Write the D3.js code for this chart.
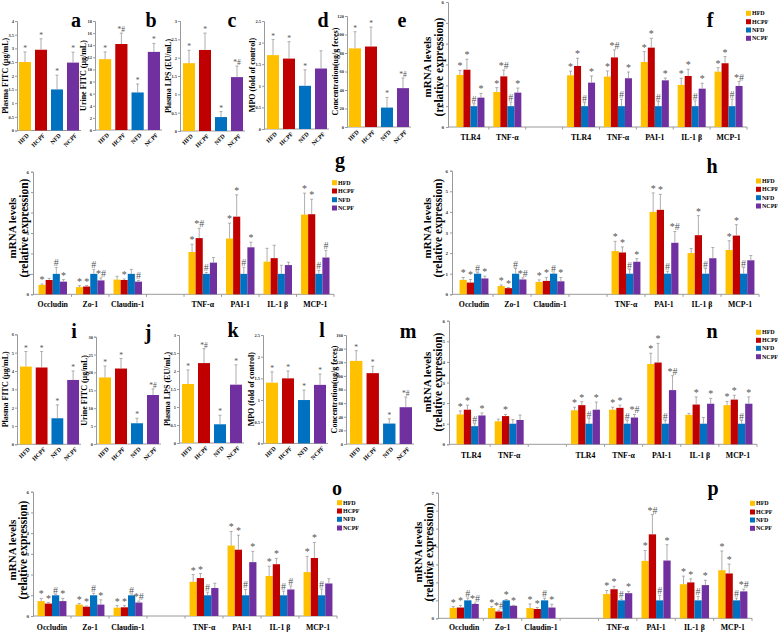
<!DOCTYPE html>
<html><head><meta charset="utf-8">
<script src="https://cdn.jsdelivr.net/npm/d3@7"></script>
<style>body{margin:0;background:#fff}svg{display:block}text{font-family:"Liberation Serif","Times New Roman",serif}</style>
</head><body><svg id="c" width="778" height="632"></svg>
<script>
// ---------- DATA ----------
const groups = ["HFD","HCPF","NFD","NCPF"];
const colors = ["#FFC000","#C00000","#0070C0","#7030A0"];

// small panels (values, upper SD, significance marks)
const aVal=[2.5,2.95,1.5,2.48], aErr=[0.37,0.4,0.52,0.38], aMark=["*","*","*","*"];
const bVal=[11.7,14.2,6.2,12.9], bErr=[1.2,1.8,1.4,1.4], bMark=["*","*#","*","*"];
const cVal=[1.85,2.21,0.38,1.47], cErr=[0.35,0.46,0.15,0.3], cMark=["*","*","*","*#"];
const dVal=[1.71,1.63,1.0,1.4], dErr=[0.36,0.39,0.37,0.41], dMark=["*","*","*",""];
const eVal=[85,87,21,42], eErr=[18,21,11,11], eMark=["*","*","*","*#"];
const iVal=[4.24,4.19,1.42,3.51], iErr=[0.82,0.87,0.73,0.49], iMark=["*","*","*","*"];
const jVal=[18.6,21.1,5.8,13.7], jErr=[3.2,2.8,1.4,1.7], jMark=["*","*","*","*#"];
const kVal=[1.64,2.22,0.52,1.62], kErr=[0.39,0.4,0.25,0.55], kMark=["*","*#","*","*"];
const lVal=[1.4,1.5,1.0,1.35], lErr=[0.25,0.17,0.23,0.25], lMark=["*","*","*","*"];
const mVal=[122,104,30,54], mErr=[15,10,7,15], mMark=["*","*","*","*#"];

// mRNA panels: rows = HFD, HCPF, NFD, NCPF
const catsA = ["TLR4","TNF-α","","TLR4","TNF-α","PAI-1","IL-1 β","MCP-1"];
const catsB = ["Occludin","Zo-1","Claudin-1","","TNF-α","PAI-1","IL-1 β","MCP-1"];

const fVal=[[2.5,1.68,null,2.48,2.42,3.12,2.02,2.66],[2.75,2.43,null,2.93,3.34,3.81,2.45,3.06],[1,1,null,1,1,1,1,1],[1.41,1.65,null,2.13,2.34,2.24,1.84,1.97]];
const fErr=[[0.22,0.21,null,0.2,0.27,0.5,0.32,0.19],[0.5,0.3,null,0.37,0.36,0.45,0.32,0.32],[0.12,0.2,null,0.17,0.33,0.22,0.25,0.34],[0.2,0.22,null,0.32,0.3,0.11,0.26,0.21]];
const fMark=[["*","*","","*","*","*","*","*"],["*","*#","","*","*#","*","*","*"],["#","#","","#","#","#","#","#"],["*","*","","*","*","*","*","*#"]];

const gVal=[[0.46,0.35,0.72,null,2.07,2.73,1.6,3.9],[0.7,0.38,0.7,null,2.75,3.8,1.77,3.92],[1,1,1,null,1,1,1,1],[0.62,0.68,0.62,null,1.55,2.3,1.43,1.8]];
const gErr=[[0.04,0.07,0.16,null,0.38,0.75,0.65,1.05],[0.08,0.05,0.05,null,0.48,1.07,0.63,0.73],[0.32,0.22,0.22,null,0.07,0.32,0.42,0.17],[0.1,0.12,0.06,null,0.25,0.25,0.14,0.35]];
const gMark=[["*","*","","","*","*","","*"],["","*","*","","*#","*","","*"],["#","#","","","#","#","","#"],["*","*#","#","","","*","","#"]];

const hVal=[[0.7,0.4,0.6,null,2.1,4.0,2.0,2.15],[0.57,0.3,0.65,null,2.03,4.1,2.87,2.85],[1,1,1,null,1,1,1,1],[0.77,0.72,0.63,null,1.58,2.5,1.75,1.65]];
const hErr=[[0.12,0.05,0.1,null,0.47,0.92,0.22,0.45],[0.15,0.03,0.17,null,0.27,0.75,0.95,0.53],[0.05,0.25,0.03,null,0.2,0.12,0.25,0.3],[0.11,0.08,0.19,null,0.15,0.55,0.52,0.23]];
const hMark=[["*","*","*","","*","*","","*"],["*","*","*","","*","*","*","*"],["#","#","#","","#","#","#","#"],["*","*#","*","","*","*#","",""]];

const nVal=[[1.45,1.12,null,1.65,1.68,3.9,1.43,1.9],[1.68,1.37,null,1.9,1.77,3.97,1.93,2.17],[0.88,1.0,null,1,1,1,1,1],[1.4,1.18,null,1.68,1.3,2.63,1.97,1.97]];
const nErr=[[0.17,0.1,null,0.15,0.12,0.52,0.07,0.18],[0.22,0.08,null,0.17,0.13,0.93,0.37,0.21],[0.12,0.2,null,0.25,0.15,0.15,0.3,0.15],[0.12,0.24,null,0.37,0.15,0.7,0.26,0.33]];
const nMark=[["*","","","*","*","*","","*"],["*","*","","*","*","*","*","*"],["#","","","#","#","#","","#"],["*","","","*","*#","*#","*","*"]];

const oVal=[[0.72,0.55,0.4,null,1.65,3.4,1.93,2.12],[0.6,0.45,0.42,null,1.83,3.2,2.5,2.8],[1,1,1,null,1,1,1,1],[0.72,0.55,0.65,null,1.35,2.6,1.28,1.57]];
const oErr=[[0.13,0.05,0.1,null,0.35,0.68,0.47,0.76],[0.05,0.03,0.08,null,0.22,0.7,0.28,0.75],[0.03,0.1,0.02,null,0.15,0.28,0.2,0.3],[0.13,0.23,0.07,null,0.23,0.52,0.17,0.23]];
const oMark=[["*","*","*","","*","*","*","*"],["*","*","*","","*","*","*","*"],["#","#","#","","#","#","#","#"],["*","*","*#","","","*","#",""]];

const pVal=[[0.58,0.57,0.57,null,1.35,3.2,1.9,2.68],[0.6,0.38,0.52,null,1.62,4.68,2.0,2.5],[1,1,1,null,1,1,1,1],[0.8,0.7,0.6,null,1.4,3.22,1.85,1.5]];
const pErr=[[0.07,0.08,0.23,null,0.2,0.58,0.45,1.07],[0.12,0.07,0.08,null,0.16,1.1,0.2,0.52],[0.13,0.05,0.12,null,0.07,0.28,0.22,0.12],[0.05,0.02,0.18,null,0.1,0.88,0.27,0.12]];
const pMark=[["*","*","*","","*","*","*","*"],["*","*#","*","","*","*#","*","*"],["#","*","#","","#","#","#","#"],["*#","*","*","","*","*","*","*#"]];

// ---------- LAYOUT ----------
const svg = d3.select("#c");
const AX = "#9a9a9a", ERR = "#9a9a9a", MARK = "#555";

const smallLayout = [
 {val:aVal,err:aErr,mark:aMark,title:"Plasma FITC (μg/mL)",max:4,step:0.5,ax:17,b0:19,b1:79,y0:130.5,yTop:21,letter:"a",lx:76,ly:27},
 {val:bVal,err:bErr,mark:bMark,title:"Urine FITC (μg/mL)",max:18,step:2,ax:95,b0:99,b1:160,y0:130,yTop:21,letter:"b",lx:151,ly:27},
 {val:cVal,err:cErr,mark:cMark,title:"Plasma LPS (EU/mL)",max:3,step:0.5,ax:180,b0:183,b1:243,y0:131,yTop:21,letter:"c",lx:232,ly:27},
 {val:dVal,err:dErr,mark:dMark,title:"MPO (fold of control)",max:2.5,step:0.5,ax:264,b0:267,b1:327,y0:129,yTop:21,letter:"d",lx:323,ly:27},
 {val:eVal,err:eErr,mark:eMark,title:"Concentration(ug/g feces)",max:120,step:20,ax:347,b0:349,b1:409,y0:127,yTop:16,letter:"e",lx:402,ly:27},
 {val:iVal,err:iErr,mark:iMark,title:"Plasma FITC (μg/mL)",max:6,step:1,ax:17,b0:20,b1:79,y0:444.3,yTop:334.3,letter:"i",lx:74,ly:338},
 {val:jVal,err:jErr,mark:jMark,title:"Urine FITC (μg/mL)",max:30,step:5,ax:96,b0:99,b1:159,y0:444,yTop:336.7,letter:"j",lx:148,ly:339},
 {val:kVal,err:kErr,mark:kMark,title:"Plasma LPS (EU/mL)",max:3,step:0.5,ax:179,b0:182,b1:242,y0:443,yTop:335,letter:"k",lx:233,ly:337},
 {val:lVal,err:lErr,mark:lMark,title:"MPO (fold of control)",max:2.5,step:0.5,ax:263,b0:266,b1:326,y0:443.4,yTop:335,letter:"l",lx:322,ly:337},
 {val:mVal,err:mErr,mark:mMark,title:"Concentration(ug/g feces)",max:160,step:20,ax:346,b0:350,b1:412,y0:444,yTop:335,letter:"m",lx:408,ly:338}
];

const mrnaLayout = [
 {cats:catsA,val:fVal,err:fErr,mark:fMark,max:6,ax:448,b0:452,b1:747,y0:127,yTop:2,catY:139.5,t1x:427,t2x:439,ty:67,legX:746,legY:[13.3,21.7,30,38.3],letter:"f",lx:710,ly:27},
 {cats:catsB,val:gVal,err:gErr,mark:gMark,max:6,ax:33,b0:34,b1:334,y0:294.3,yTop:171.7,catY:307,t1x:12,t2x:24,ty:228,legX:332,legY:[182.7,191,199.7,208],letter:"g",lx:340,ly:167},
 {cats:catsB,val:hVal,err:hErr,mark:hMark,max:6,ax:452,b0:455,b1:759,y0:294.3,yTop:170.7,catY:307,t1x:427,t2x:438,ty:228,legX:756,legY:[181,189.3,197.7,206],letter:"h",lx:712,ly:173},
 {cats:catsA,val:nVal,err:nErr,mark:nMark,max:6,ax:449,b0:452,b1:757,y0:444.3,yTop:320.7,catY:458,t1x:427,t2x:438,ty:382,legX:756,legY:[332.3,340.3,348.3,356.7],letter:"n",lx:712,ly:338},
 {cats:catsB,val:oVal,err:oErr,mark:oMark,max:6,ax:33,b0:33,b1:337,y0:616,yTop:491.7,catY:629.5,t1x:12,t2x:23,ty:550,legX:337,legY:[502.7,511,519.3,528],letter:"o",lx:337,ly:495},
 {cats:catsB,val:pVal,err:pErr,mark:pMark,max:7,ax:438,b0:445,b1:752,y0:618.3,yTop:492.7,catY:629.5,t1x:418,t2x:429,ty:552,legX:750,legY:[503.3,512,520,528.3],letter:"p",lx:713,ly:495}
];

function styleAxis(sel, fs){
  sel.select(".domain").attr("stroke",AX);
  sel.selectAll(".tick line").attr("stroke",AX);
  sel.selectAll(".tick text").attr("font-size",fs).attr("fill","#333").attr("font-weight","bold")
     .attr("font-family","'Liberation Serif',serif");
}

function letter(L){
  svg.append("text").attr("x",L.lx).attr("y",L.ly).attr("text-anchor","middle")
    .attr("font-size",20).attr("font-weight","bold").text(L.letter);
}

// ----- small panels -----
smallLayout.forEach(L=>{
  const g = svg.append("g");
  const y = d3.scaleLinear().domain([0,L.max]).range([L.y0,L.yTop]);
  const x = d3.scaleBand().domain(groups).range([L.b0,L.b1]).paddingInner(0.25);
  const ya = g.append("g").attr("transform",`translate(${L.ax},0)`)
    .call(d3.axisLeft(y).tickValues(d3.range(0,L.max+L.step/2,L.step)).tickSize(2).tickPadding(1).tickFormat(d3.format("~g")));
  styleAxis(ya,4.5);
  g.append("line").attr("x1",L.ax).attr("x2",L.b1+2).attr("y1",L.y0).attr("y2",L.y0).attr("stroke",AX);
  const items = groups.map((k,i)=>({k,i,v:L.val[i],e:L.err[i],m:L.mark[i]}));
  g.selectAll("rect").data(items).join("rect")
    .attr("x",d=>x(d.k)).attr("width",x.bandwidth())
    .attr("y",d=>y(d.v)).attr("height",d=>L.y0-y(d.v)).attr("fill",d=>colors[d.i]);
  const cx = d=>x(d.k)+x.bandwidth()/2;
  g.selectAll(".eb").data(items).join("line").attr("x1",cx).attr("x2",cx)
    .attr("y1",d=>y(d.v)).attr("y2",d=>y(d.v+d.e)).attr("stroke",ERR).attr("stroke-width",0.8);
  g.selectAll(".cap").data(items).join("line").attr("x1",d=>cx(d)-1.5).attr("x2",d=>cx(d)+1.5)
    .attr("y1",d=>y(d.v+d.e)).attr("y2",d=>y(d.v+d.e)).attr("stroke",ERR).attr("stroke-width",0.8);
  g.selectAll(".mk").data(items).join("text").attr("x",cx).attr("y",d=>y(d.v+d.e)-1)
    .attr("text-anchor","middle").attr("font-size",7.5).attr("fill",MARK).text(d=>d.m);
  g.selectAll(".xl").data(items).join("text")
    .attr("transform",d=>`translate(${cx(d)+3},${L.y0+4}) rotate(-45)`)
    .attr("text-anchor","end").attr("dominant-baseline","central")
    .attr("font-size",6).attr("font-weight","bold").text(d=>d.k);
  g.append("text").attr("transform",`translate(${L.ax-12},${(L.y0+L.yTop)/2}) rotate(-90)`)
    .attr("text-anchor","middle").attr("dominant-baseline","central")
    .attr("font-size",8).attr("font-weight","bold").text(L.title);
  letter(L);
});

// ----- mRNA panels -----
mrnaLayout.forEach(L=>{
  const g = svg.append("g");
  const y = d3.scaleLinear().domain([0,L.max]).range([L.y0,L.yTop]);
  const x = d3.scaleBand().domain(d3.range(L.cats.length)).range([L.b0,L.b1]);
  const bw = x.bandwidth();
  const xi = d3.scaleBand().domain(groups).range([bw*0.12,bw*0.88]);
  const ya = g.append("g").attr("transform",`translate(${L.ax},0)`)
    .call(d3.axisLeft(y).ticks(L.max).tickSize(2).tickPadding(2).tickFormat(d3.format("d")));
  styleAxis(ya,5);
  g.append("line").attr("x1",L.ax).attr("x2",L.b1).attr("y1",L.y0).attr("y2",L.y0).attr("stroke",AX);
  g.selectAll(".sep").data(d3.range(1,L.cats.length+1)).join("line")
    .attr("x1",i=>i<L.cats.length?x(i):L.b1).attr("x2",i=>i<L.cats.length?x(i):L.b1)
    .attr("y1",L.y0).attr("y2",L.y0+2.5).attr("stroke",AX);
  const items=[];
  L.val.forEach((row,s)=>row.forEach((v,c)=>{ if(v!=null) items.push({s,c,v,e:L.err[s][c],m:L.mark[s][c]}); }));
  const bx = d=>x(d.c)+xi(groups[d.s]);
  const cx = d=>bx(d)+xi.bandwidth()/2;
  g.selectAll("rect").data(items).join("rect")
    .attr("x",bx).attr("width",xi.bandwidth())
    .attr("y",d=>y(d.v)).attr("height",d=>L.y0-y(d.v)).attr("fill",d=>colors[d.s]);
  g.selectAll(".eb").data(items).join("line").attr("x1",cx).attr("x2",cx)
    .attr("y1",d=>y(d.v)).attr("y2",d=>y(d.v+d.e)).attr("stroke",ERR).attr("stroke-width",0.8);
  g.selectAll(".cap").data(items).join("line").attr("x1",d=>cx(d)-1.5).attr("x2",d=>cx(d)+1.5)
    .attr("y1",d=>y(d.v+d.e)).attr("y2",d=>y(d.v+d.e)).attr("stroke",ERR).attr("stroke-width",0.8);
  g.selectAll(".mk").data(items).join("text").attr("x",cx).attr("y",d=>y(d.v+d.e)-1)
    .attr("text-anchor","middle").attr("font-size",10).attr("fill",MARK).text(d=>d.m);
  g.selectAll(".cl").data(L.cats).join("text")
    .attr("x",(d,i)=>x(i)+bw/2).attr("y",L.catY).attr("text-anchor","middle")
    .attr("font-size",7.8).attr("font-weight","bold").text(d=>d);
  g.append("text").attr("transform",`translate(${L.t1x},${L.ty}) rotate(-90)`)
    .attr("text-anchor","middle").attr("dominant-baseline","central")
    .attr("font-size",11).attr("font-weight","bold").text("mRNA levels");
  g.append("text").attr("transform",`translate(${L.t2x},${L.ty}) rotate(-90)`)
    .attr("text-anchor","middle").attr("dominant-baseline","central")
    .attr("font-size",11.5).attr("font-weight","bold").text("(relative expression)");
  const lg = g.selectAll(".lg").data(groups).join("g")
    .attr("transform",(d,i)=>`translate(${L.legX},${L.legY[i]})`);
  lg.append("rect").attr("x",0).attr("y",-2.5).attr("width",5).attr("height",5).attr("fill",(d,i)=>colors[i]);
  lg.append("text").attr("x",6).attr("y",0).attr("dominant-baseline","central")
    .attr("font-size",6).attr("font-weight","bold").text(d=>d);
  letter(L);
});
</script></body></html>
